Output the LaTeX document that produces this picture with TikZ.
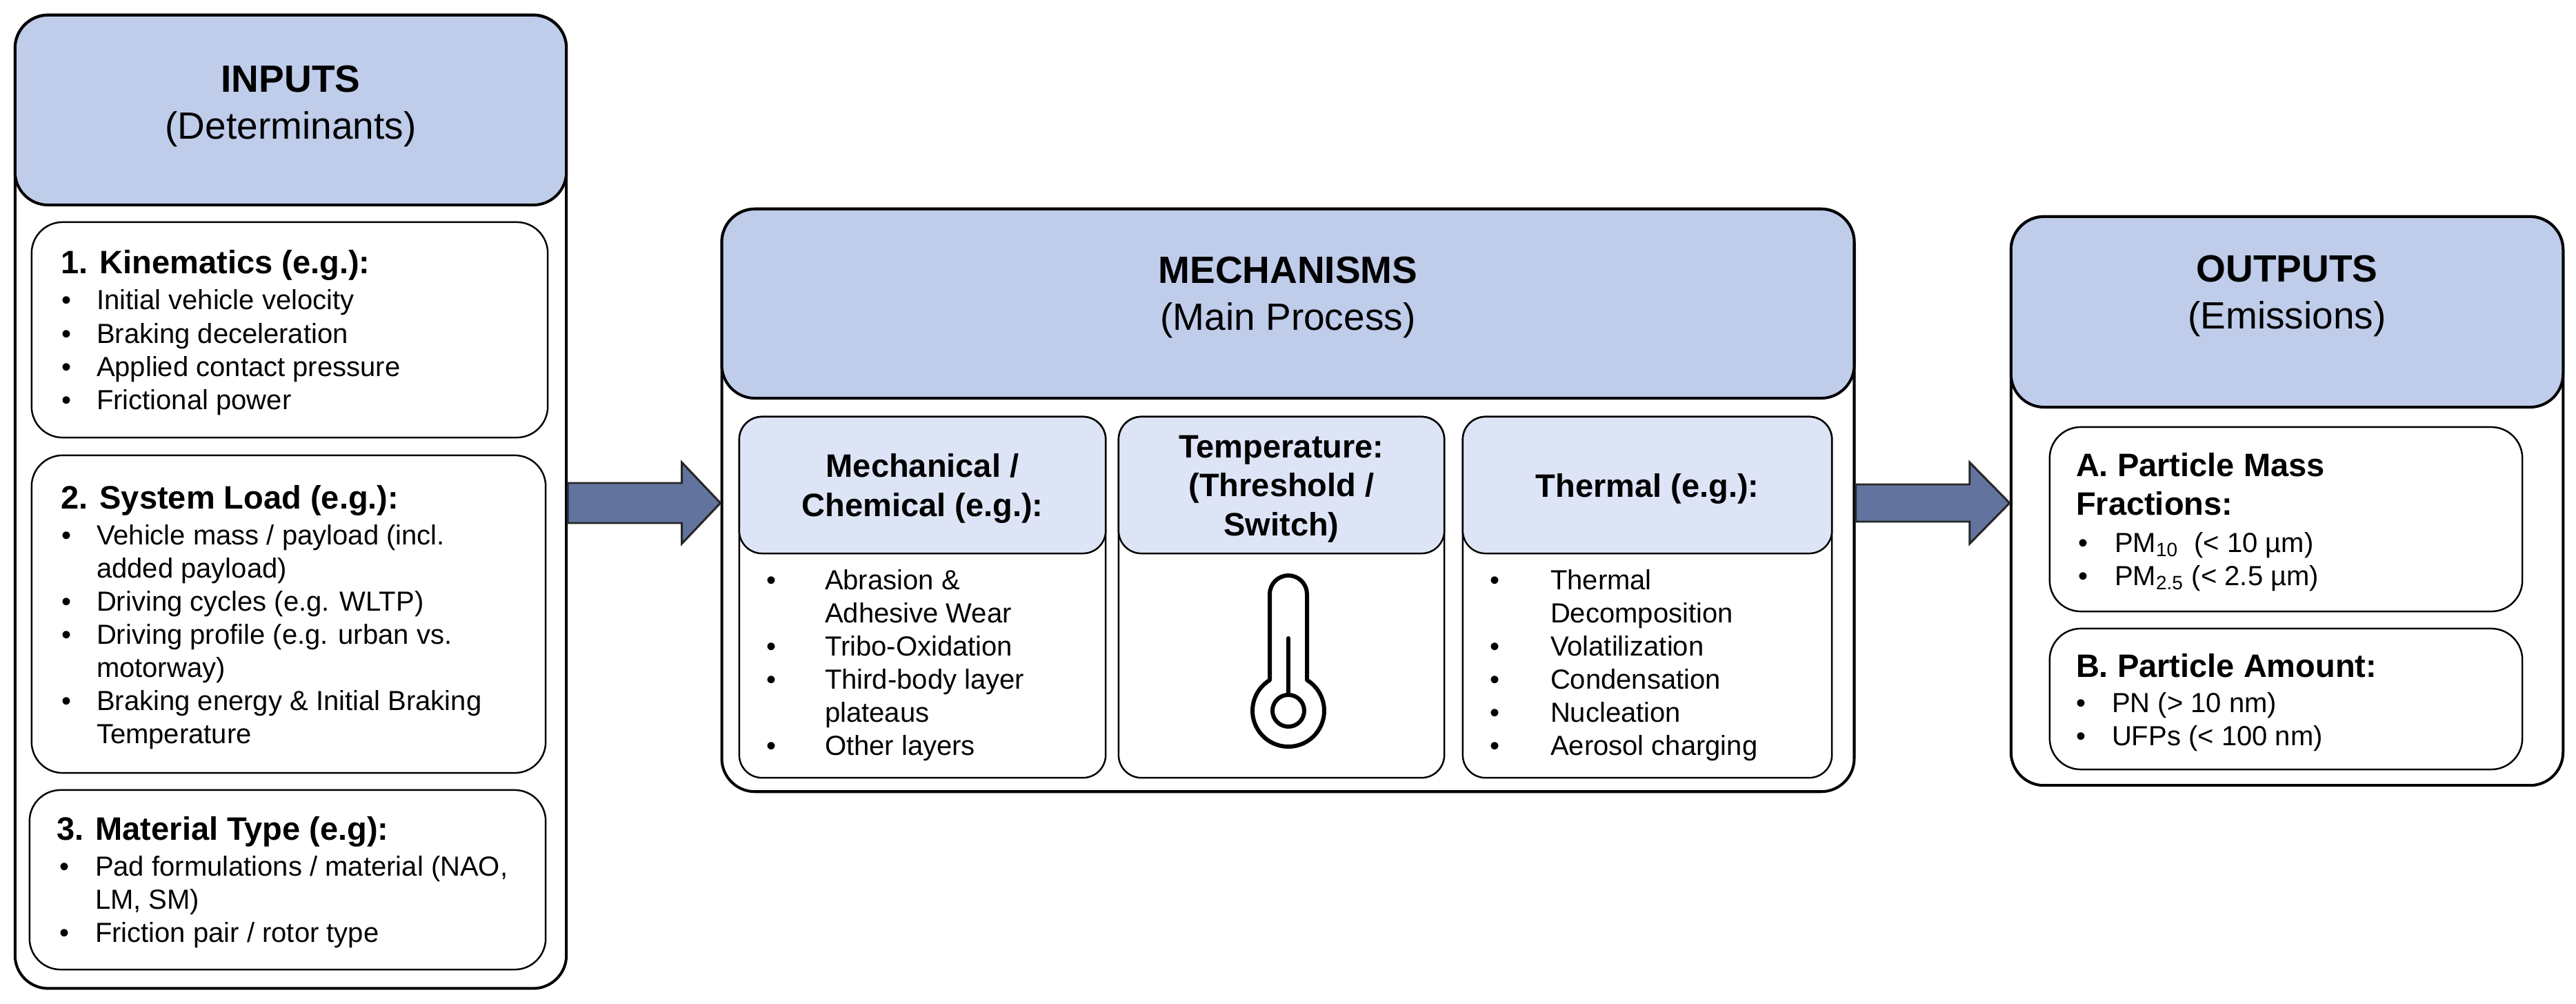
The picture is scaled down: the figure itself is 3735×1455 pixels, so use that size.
\documentclass[tikz,border=0pt]{standalone}
\usepackage{fontspec}
\setmainfont{Liberation Sans}
\usetikzlibrary{calc}
\definecolor{hdr}{RGB}{191,205,235}
\definecolor{subhdr}{RGB}{221,228,246}
\definecolor{arrowfill}{RGB}{98,116,158}
\newcommand\fbody{\fontsize{11.38pt}{13.66pt}\selectfont}
\newcommand\fhead{\fontsize{13.37pt}{16.2pt}\selectfont\bfseries}
\newcommand\ftitle{\fontsize{15.65pt}{19.06pt}\selectfont}
\newcommand\blist[2]{\begin{tabular}[t]{@{}p{#1}@{}l@{}}#2\end{tabular}}
\newcommand\clines[1]{\begin{tabular}[t]{@{}c@{}}#1\end{tabular}}
\newcommand\llines[1]{\begin{tabular}[t]{@{}l@{}}#1\end{tabular}}
\begin{document}
\begin{tikzpicture}[x=0.01cm, y=-0.01cm,
  outerbox/.style={draw, line width=1.14pt, rounded corners=0.48cm, inner sep=0pt, fill=white},
  hdrbox/.style={draw, line width=1.14pt, rounded corners=0.48cm, inner sep=0pt, fill=hdr},
  ibox/.style={draw, line width=0.7pt, rounded corners=0.45cm, inner sep=0pt, fill=white},
  mbox/.style={draw, line width=0.7pt, rounded corners=0.33cm, inner sep=0pt, fill=white},
  mhdr/.style={draw, line width=0.7pt, rounded corners=0.33cm, inner sep=0pt, fill=subhdr},
  txt/.style={inner sep=0pt, outer sep=0pt},
  bigarrow/.style={draw=black!85, line width=0.85pt, fill=arrowfill, line join=miter},
  thermo/.style={draw, line width=1.7pt, line join=round, line cap=round}]
\fill[white] (0,0) rectangle (3735,1455);
\useasboundingbox (0,0) rectangle (3735,1455);

% ---------------- INPUTS ----------------
\node[outerbox, minimum width=7.99cm, minimum height=14.10cm] (inp) at (421.5,727) {};
\node[hdrbox, minimum width=7.99cm, minimum height=2.75cm] (inph) at (421.5,159.5) {};
\node[txt, anchor=base] (inpt) at (421.5,134) {\ftitle\clines{\textbf{INPUTS}\\(Determinants)}};

\node[ibox, minimum width=7.48cm, minimum height=3.12cm] (k1) at (420,478) {};
\node[ibox, minimum width=7.45cm, minimum height=4.60cm] (k2) at (418.5,890) {};
\node[ibox, minimum width=7.48cm, minimum height=2.60cm] (k3) at (417,1275) {};

\node[txt, anchor=base west] (k1h) at (88,397) {\fhead 1. Kinematics (e.g.):};
\node[txt, anchor=base west] (k1l) at (90,449) {\fbody\blist{0.50cm}{%
\textbullet & Initial vehicle velocity\\
\textbullet & Braking deceleration\\
\textbullet & Applied contact pressure\\
\textbullet & Frictional power}};

\node[txt, anchor=base west] (k2h) at (88,737) {\fhead 2. System Load (e.g.):};
\node[txt, anchor=base west] (k2l) at (90,789) {\fbody\blist{0.50cm}{%
\textbullet & Vehicle mass / payload (incl.\\
 & added payload)\\
\textbullet & Driving cycles (e.g. WLTP)\\
\textbullet & Driving profile (e.g. urban vs.\\
 & motorway)\\
\textbullet & Braking energy \& Initial Braking\\
 & Temperature}};

\node[txt, anchor=base west] (k3h) at (82,1217) {\fhead 3. Material Type (e.g):};
\node[txt, anchor=base west] (k3l) at (86,1269) {\fbody\blist{0.52cm}{%
\textbullet & Pad formulations / material (NAO,\\
 & LM, SM)\\
\textbullet & Friction pair / rotor type}};

% ---------------- MECHANISMS ----------------
\node[outerbox, minimum width=16.41cm, minimum height=8.44cm] (mech) at (1867.5,725) {};
\node[hdrbox, minimum width=16.41cm, minimum height=2.74cm] (mechh) at (1867.5,440) {};
\node[txt, anchor=base] (mecht) at (1867.5,411) {\ftitle\clines{\textbf{MECHANISMS}\\(Main Process)}};

\node[mbox, minimum width=5.31cm, minimum height=5.23cm] (s1) at (1337.5,865.5) {};
\node[mhdr, minimum width=5.31cm, minimum height=1.98cm] (s1h) at (1337.5,703) {};
\node[mbox, minimum width=4.72cm, minimum height=5.23cm] (s2) at (1858,865.5) {};
\node[mhdr, minimum width=4.72cm, minimum height=1.98cm] (s2h) at (1858,703) {};
\node[mbox, minimum width=5.35cm, minimum height=5.23cm] (s3) at (2388.5,865.5) {};
\node[mhdr, minimum width=5.35cm, minimum height=1.98cm] (s3h) at (2388.5,703) {};

\node[txt, anchor=base] (s1t) at (1337.5,692) {\fhead\clines{Mechanical /\\Chemical (e.g.):}};
\node[txt, anchor=base] (s2t) at (1858,663) {\fhead\clines{Temperature:\\(Threshold /\\Switch)}};
\node[txt, anchor=base] (s3t) at (2388.5,720) {\fhead Thermal (e.g.):};

\node[txt, anchor=base west] (s1l) at (1111,854) {\fbody\blist{0.85cm}{%
\textbullet & Abrasion \&\\
 & Adhesive Wear\\
\textbullet & Tribo-Oxidation\\
\textbullet & Third-body layer\\
 & plateaus\\
\textbullet & Other layers}};

\node[txt, anchor=base west] (s3l) at (2160,854) {\fbody\blist{0.88cm}{%
\textbullet & Thermal\\
 & Decomposition\\
\textbullet & Volatilization\\
\textbullet & Condensation\\
\textbullet & Nucleation\\
\textbullet & Aerosol charging}};

% thermometer icon
\begin{scope}[shift={(1868,1030)}, x=0.01cm, y=0.01cm]
\draw[thermo] (27,44.4) -- (27,169) arc[start angle=0, end angle=180, radius=27]
  -- (-27,44.4) arc[start angle=121.3, end angle=418.7, radius=52] -- cycle;
\draw[thermo] (0,0) circle[radius=23];
\draw[thermo] (0,23) -- (0,105);
\end{scope}

% ---------------- OUTPUTS ----------------
\node[outerbox, minimum width=8.00cm, minimum height=8.24cm] (out) at (3316,726) {};
\node[hdrbox, minimum width=8.00cm, minimum height=2.76cm] (outh) at (3316,452) {};
\node[txt, anchor=base] (outt) at (3316,409) {\ftitle\clines{\textbf{OUTPUTS}\\(Emissions)}};

\node[ibox, minimum width=6.85cm, minimum height=2.67cm] (oa) at (3314.5,752.5) {};
\node[ibox, minimum width=6.85cm, minimum height=2.04cm] (ob) at (3314.5,1013) {};

\node[txt, anchor=base west] (oah) at (3010,690) {\fhead\llines{A. Particle Mass\\Fractions:}};
\node[txt, anchor=base west] (oal) at (3013,800) {\fbody\blist{0.53cm}{%
\textbullet & PM\textsubscript{10}\ \ (< 10 µm)\\
\textbullet & PM\textsubscript{2.5} (< 2.5 µm)}};

\node[txt, anchor=base west] (obh) at (3010,981) {\fhead B. Particle Amount:};
\node[txt, anchor=base west] (obl) at (3010,1032) {\fbody\blist{0.52cm}{%
\textbullet & PN (> 10 nm)\\
\textbullet & UFPs (< 100 nm)}};

% ---------------- ARROWS ----------------
\coordinate (a1s) at (inp.east |- 0,729);
\coordinate (a1t) at (mech.west |- 0,729);
\draw[bigarrow] ($(a1s)+(0,-29)$) -- ($(a1t)+(-56,-29)$) -- ($(a1t)+(-56,-59)$) -- (a1t)
  -- ($(a1t)+(-56,59)$) -- ($(a1t)+(-56,29)$) -- ($(a1s)+(0,29)$) -- cycle;

\coordinate (a2s) at (mech.east |- 0,729);
\coordinate (a2t) at (out.west |- 0,729);
\draw[bigarrow] ($(a2s)+(0,-27)$) -- ($(a2t)+(-58,-27)$) -- ($(a2t)+(-58,-59)$) -- (a2t)
  -- ($(a2t)+(-58,59)$) -- ($(a2t)+(-58,27)$) -- ($(a2s)+(0,27)$) -- cycle;
\end{tikzpicture}
\end{document}
